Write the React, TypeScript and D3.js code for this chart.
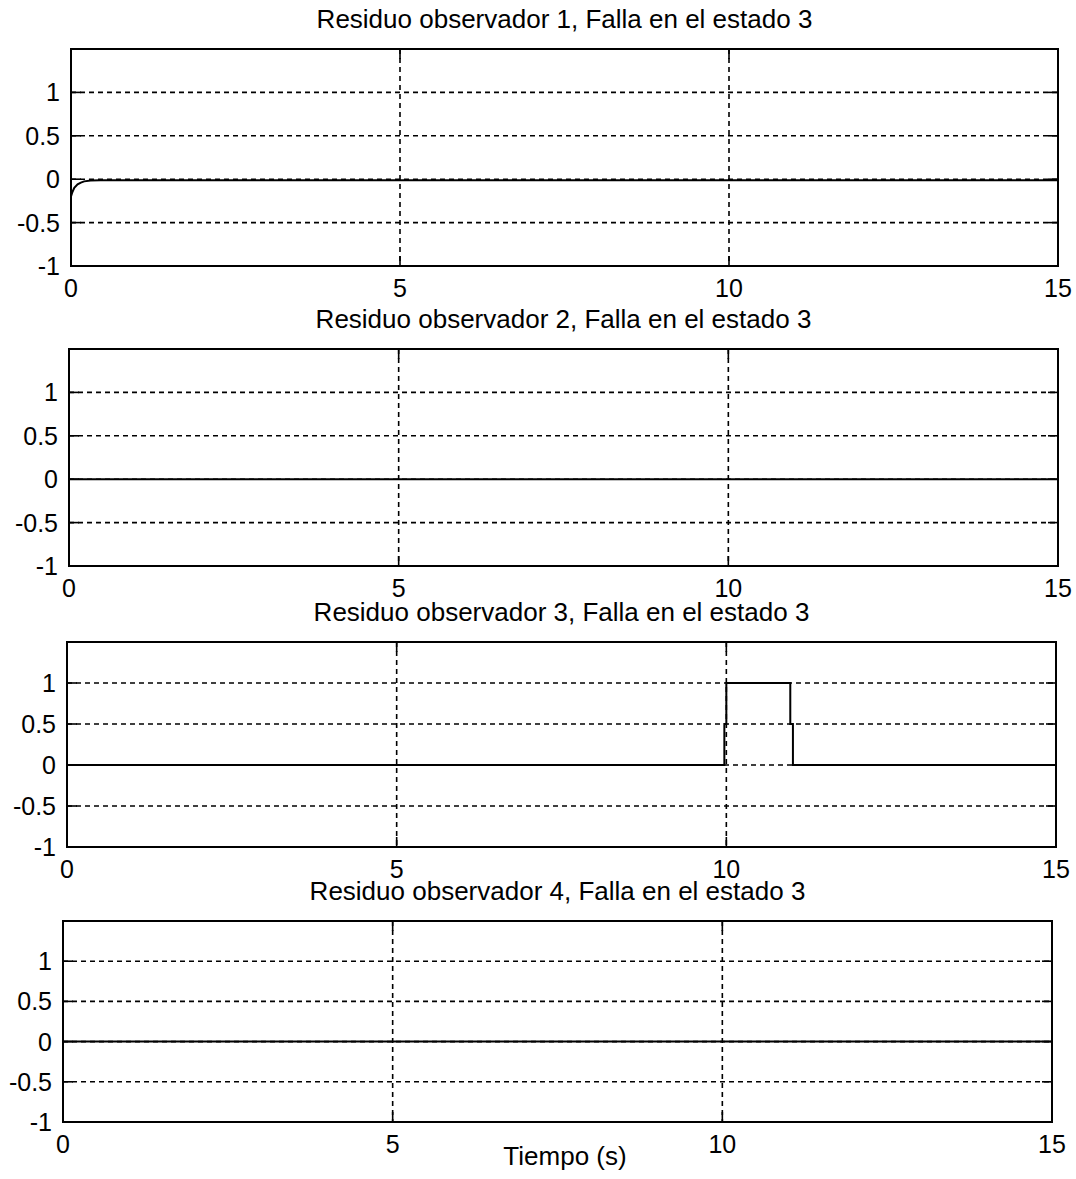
import React from 'react';
import * as d3 from 'd3';

// residuals per observer (fault in state 3)
const timeObs1 = [0, 0.02, 0.05, 0.1, 0.15, 0.2, 0.3, 0.45, 15];
const resObs1 = [-0.2, -0.15, -0.1, -0.06, -0.04, -0.025, -0.015, -0.012, -0.012];

const timeObs2 = [0, 15];
const resObs2 = [0, 0];

const timeObs3 = [0, 9.97, 9.97, 10.0, 10.0, 10.97, 10.97, 11.01, 11.01, 15];
const resObs3 = [0, 0, 0.5, 0.5, 1, 1, 0.5, 0.5, 0, 0];

const timeObs4 = [0, 15];
const resObs4 = [0, 0];

const titles = [
  'Residuo observador 1, Falla en el estado 3',
  'Residuo observador 2, Falla en el estado 3',
  'Residuo observador 3, Falla en el estado 3',
  'Residuo observador 4, Falla en el estado 3',
];

const xTicks = [0, 5, 10, 15];
const yTicks = [-1, -0.5, 0, 0.5, 1];
const xDomain: [number, number] = [0, 15];
const yDomain: [number, number] = [-1, 1.5];

const series = [
  { t: timeObs1, r: resObs1 },
  { t: timeObs2, r: resObs2 },
  { t: timeObs3, r: resObs3 },
  { t: timeObs4, r: resObs4 },
];

// axes boxes as measured on the picture: left, right, top, bottom
const boxes = [
  { l: 71, r: 1058, t: 49, b: 266 },
  { l: 69, r: 1058, t: 349, b: 566 },
  { l: 67, r: 1056, t: 642, b: 847 },
  { l: 63, r: 1052, t: 921, b: 1122 },
];

const FONT = '"Liberation Sans", Arial, sans-serif';
const TITLE_FS = 26;
const TICK_FS = 25;

const Panel: React.FC<{ idx: number }> = ({ idx }) => {
  const box = boxes[idx];
  const s = series[idx];
  const x = d3.scaleLinear().domain(xDomain).range([box.l, box.r]);
  const y = d3.scaleLinear().domain(yDomain).range([box.b, box.t]);
  const pts = s.t.map((t, i) => [t, s.r[i]] as [number, number]);
  const line = d3.line<[number, number]>().x(d => x(d[0])).y(d => y(d[1]));
  const tick = 10;

  return (
    <g>
      {/* grid */}
      {yTicks.filter(v => v !== -1).map(v => (
        <line key={'gy' + v} x1={box.l} x2={box.r} y1={y(v)} y2={y(v)}
          stroke="#000" strokeWidth={1.6} strokeDasharray="5,4" />
      ))}
      {xTicks.filter(v => v !== 0 && v !== 15).map(v => (
        <line key={'gx' + v} x1={x(v)} x2={x(v)} y1={box.t} y2={box.b}
          stroke="#000" strokeWidth={1.6} strokeDasharray="5,4" />
      ))}
      {/* data */}
      <path d={line(pts) || ''} fill="none" stroke="#000" strokeWidth={2} />
      {/* box */}
      <rect x={box.l} y={box.t} width={box.r - box.l} height={box.b - box.t}
        fill="none" stroke="#000" strokeWidth={2} />
      {/* ticks */}
      {xTicks.map(v => (
        <g key={'tx' + v}>
          <line x1={x(v)} x2={x(v)} y1={box.b} y2={box.b - tick} stroke="#000" strokeWidth={1.6} />
          <line x1={x(v)} x2={x(v)} y1={box.t} y2={box.t + tick} stroke="#000" strokeWidth={1.6} />
          <text x={x(v)} y={box.b + 31} textAnchor="middle" fontFamily={FONT} fontSize={TICK_FS}>{v}</text>
        </g>
      ))}
      {yTicks.map(v => (
        <g key={'ty' + v}>
          <line x1={box.l} x2={box.l + tick} y1={y(v)} y2={y(v)} stroke="#000" strokeWidth={1.6} />
          <line x1={box.r} x2={box.r - tick} y1={y(v)} y2={y(v)} stroke="#000" strokeWidth={1.6} />
          <text x={box.l - 11} y={y(v) + 9} textAnchor="end" fontFamily={FONT} fontSize={TICK_FS}>{v}</text>
        </g>
      ))}
      <text x={(box.l + box.r) / 2} y={box.t - 21} textAnchor="middle"
        fontFamily={FONT} fontSize={TITLE_FS}>{titles[idx]}</text>
    </g>
  );
};

export default function App() {
  return (
    <svg width={1076} height={1179} style={{ position: 'absolute', left: 0, top: 0, background: '#fff' }}>
      <rect width={1076} height={1179} fill="#fff" />
      {boxes.map((_, i) => <Panel key={i} idx={i} />)}
      <text x={565} y={1165} textAnchor="middle" fontFamily={FONT} fontSize={TITLE_FS}>Tiempo (s)</text>
    </svg>
  );
}
